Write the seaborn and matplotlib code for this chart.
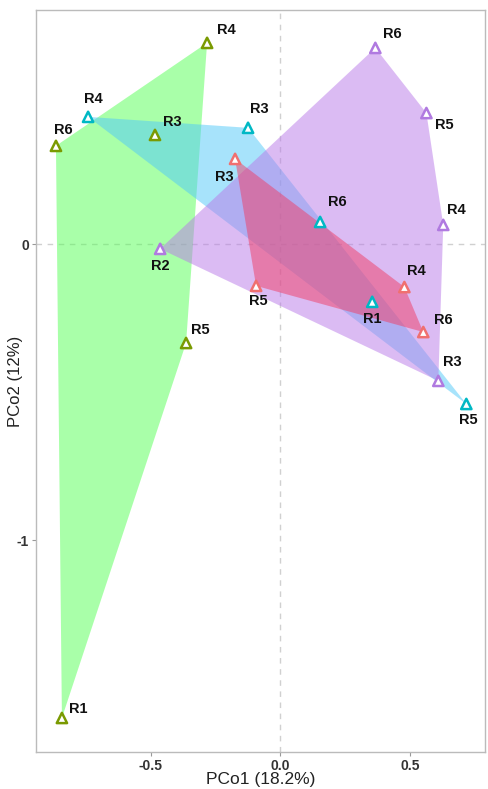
import numpy as np
import pandas as pd
import matplotlib
matplotlib.use("Agg")
import matplotlib.pyplot as plt
import seaborn as sns

# ---- data ----
groups = ["G1"] * 5 + ["G2"] * 5 + ["G3"] * 4 + ["G4"] * 5
samples = ["R4", "R6", "R3", "R5", "R1",
           "R4", "R3", "R6", "R1", "R5",
           "R3", "R5", "R4", "R6",
           "R6", "R5", "R4", "R3", "R2"]
pco1 = [-0.282, -0.865, -0.483, -0.363, -0.842,
        -0.741, -0.124, 0.154, 0.355, 0.718,
        -0.174, -0.093, 0.479, 0.552,
        0.367, 0.564, 0.629, 0.610, -0.463]
pco2 = [0.681, 0.333, 0.370, -0.333, -1.600,
        0.431, 0.394, 0.076, -0.194, -0.539,
        0.289, -0.140, -0.144, -0.296,
        0.664, 0.444, 0.066, -0.461, -0.015]
x_ticks = [-0.5, 0.0, 0.5]
x_tick_labels = ["-0.5", "0.0", "0.5"]
y_ticks = [-1, 0]
y_tick_labels = ["-1", "0"]

# ---- style ----
edge_colors = {"G1": "#7a9a01", "G2": "#00b8c4", "G3": "#f07070", "G4": "#b07ae0"}
fill_colors = {"G1": "#55ff55", "G2": "#51c9f9", "G3": "#f03c64", "G4": "#b979e9"}
draw_order = ["G1", "G2", "G4", "G3"]
# label offsets in pixels (dx right, dy up)
label_offsets = [(19, 13), (7, 16), (17, 13), (14, 13), (16, 9),
                 (5, 18), (11, 19), (17, 20), (0, -17), (2, -16),
                 (-11, -18), (2, -15), (12, 16), (20, 12),
                 (17, 14), (18, -12), (13, 15), (14, 19), (0, -17)]

df = pd.DataFrame({"group": groups, "sample": samples, "PCo1": pco1, "PCo2": pco2})

sns.set_style("white")
plt.rcParams["font.family"] = ["Liberation Sans", "DejaVu Sans"]

fig = plt.figure(figsize=(4.89, 7.89), dpi=100)
ax = fig.add_axes([0.0736, 0.0469, 0.9918 - 0.0736, 0.9873 - 0.0469])


def convex_hull(points):
    pts = sorted(set(points))
    if len(pts) <= 2:
        return pts

    def cross(o, a, b):
        return (a[0] - o[0]) * (b[1] - o[1]) - (a[1] - o[1]) * (b[0] - o[0])
    lower = []
    for p in pts:
        while len(lower) >= 2 and cross(lower[-2], lower[-1], p) <= 0:
            lower.pop()
        lower.append(p)
    upper = []
    for p in reversed(pts):
        while len(upper) >= 2 and cross(upper[-2], upper[-1], p) <= 0:
            upper.pop()
        upper.append(p)
    return lower[:-1] + upper[:-1]


for g in draw_order:
    sub = df[df.group == g]
    hull = convex_hull(list(zip(sub.PCo1, sub.PCo2)))
    hx, hy = zip(*hull)
    ax.fill(hx, hy, color=fill_colors[g], alpha=0.5, lw=0, zorder=1)

ax.axvline(0, color="#d0d0d0", ls=(0, (4, 4)), lw=1, zorder=0.5)
ax.axhline(0, color="#d0d0d0", ls=(0, (4, 4)), lw=1, zorder=0.5)

sns.scatterplot(data=df, x="PCo1", y="PCo2", hue="group", palette=edge_colors,
                marker="^", s=55, facecolor="white", linewidth=1.8,
                legend=False, ax=ax, zorder=3)
coll = ax.collections[-1]
coll.set_edgecolors([edge_colors[g] for g in df.group])
coll.set_facecolors("white")

for (xv, yv, s), (dx, dy) in zip(zip(df.PCo1, df.PCo2, df["sample"]), label_offsets):
    ax.annotate(s, (xv, yv), xytext=(dx * 0.72, dy * 0.72), textcoords="offset points",
                ha="center", va="center", fontsize=10.5, fontweight="bold",
                color="#111111", zorder=4)

ax.set_xlim(-0.942, 0.79)
ax.set_ylim(-1.715, 0.792)
ax.set_xticks(x_ticks)
ax.set_xticklabels(x_tick_labels)
ax.set_yticks(y_ticks)
ax.set_yticklabels(y_tick_labels)
ax.tick_params(axis="both", which="both", length=3, width=0.8, color="#999999",
               labelsize=10, labelcolor="#333333", pad=2, bottom=True, left=True)
for lbl in ax.get_xticklabels() + ax.get_yticklabels():
    lbl.set_fontweight("bold")
ax.set_xlabel("PCo1 (18.2%)", fontsize=12.5, color="#222222", labelpad=-1)
ax.set_ylabel("PCo2 (12%)", fontsize=12, color="#222222")
ax.yaxis.set_label_coords(-0.03, 0.5)
for sp in ax.spines.values():
    sp.set_color("#bbbbbb")
    sp.set_linewidth(1)

fig.savefig("out.png", dpi=100)
